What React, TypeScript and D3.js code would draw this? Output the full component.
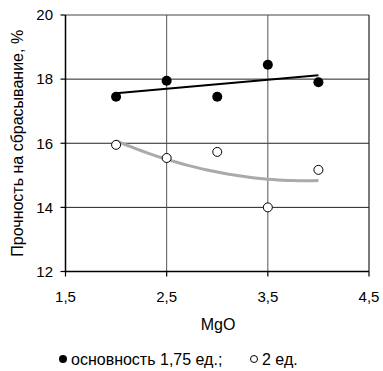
import React from "react";
import * as d3 from "d3";

const xValues = [2, 2.5, 3, 3.5, 4];
const basic175 = [17.45, 17.95, 17.45, 18.45, 17.9];
const basic2 = [15.95, 15.54, 15.73, 14.0, 15.17];
const xTicks = [1.5, 2.5, 3.5, 4.5];
const yTicks = [12, 14, 16, 18, 20];
const xGrid = [2.5, 3.5];
const yGrid = [14, 16, 18];

const W = 383, H = 371;
const m = { left: 65.5, right: 369, top: 15, bottom: 271.5 };

function polyfit(xs: number[], ys: number[], deg: number): number[] {
  const n = deg + 1;
  const A: number[][] = Array.from({ length: n }, () => Array(n + 1).fill(0));
  for (let i = 0; i < n; i++) {
    for (let j = 0; j < n; j++) A[i][j] = d3.sum(xs, (x) => Math.pow(x, i + j));
    A[i][n] = d3.sum(xs, (x, k) => Math.pow(x, i) * ys[k]);
  }
  for (let i = 0; i < n; i++) {
    let p = i;
    for (let r = i + 1; r < n; r++) if (Math.abs(A[r][i]) > Math.abs(A[p][i])) p = r;
    [A[i], A[p]] = [A[p], A[i]];
    for (let r = 0; r < n; r++) {
      if (r === i) continue;
      const f = A[r][i] / A[i][i];
      for (let c = i; c <= n; c++) A[r][c] -= f * A[i][c];
    }
  }
  return A.map((row, i) => row[n] / row[i]);
}

export default function App() {
  const x = d3.scaleLinear().domain([1.5, 4.5]).range([m.left, m.right]);
  const y = d3.scaleLinear().domain([12, 20]).range([m.bottom, m.top]);
  const fmt = (v: number) => String(v).replace(".", ",");

  const c1 = polyfit(xValues, basic175, 1);
  const c2 = polyfit(xValues, basic2, 2);
  const samples = d3.range(2, 4.0001, 0.05);
  const ev = (c: number[], v: number) => c.reduce((s, a, i) => s + a * Math.pow(v, i), 0);
  const trend1 = d3.line<number>().x((d) => x(d)).y((d) => y(ev(c1, d)))([2, 4]) || "";
  const trend2 = d3.line<number>().x((d) => x(d)).y((d) => y(ev(c2, d)))(samples) || "";

  const font = "'Liberation Sans', Arial, sans-serif";

  return (
    <svg width={W} height={H} style={{ position: "absolute", left: 0, top: 0 }} fontFamily={font}>
      <rect width={W} height={H} fill="#fff" />
      {yGrid.map((v) => (
        <line key={"gy" + v} x1={m.left} x2={m.right} y1={y(v)} y2={y(v)} stroke="#222" strokeWidth={1} />
      ))}
      {xGrid.map((v) => (
        <line key={"gx" + v} x1={x(v)} x2={x(v)} y1={m.top} y2={m.bottom} stroke="#555" strokeWidth={1} />
      ))}
      <line x1={m.left} x2={m.right} y1={m.top} y2={m.top} stroke="#444" strokeWidth={1.2} />
      <line x1={m.right} x2={m.right} y1={m.top} y2={m.bottom} stroke="#222" strokeWidth={1.2} />
      <line x1={m.left} x2={m.left} y1={m.top} y2={m.bottom} stroke="#000" strokeWidth={1.5} />
      <line x1={m.left} x2={m.right} y1={m.bottom} y2={m.bottom} stroke="#000" strokeWidth={1.5} />
      {yTicks.map((v) => (
        <g key={"yt" + v}>
          <line x1={m.left - 5} x2={m.left} y1={y(v)} y2={y(v)} stroke="#000" strokeWidth={1.2} />
          <text x={53} y={y(v)} dy="0.35em" textAnchor="end" fontSize={15}>
            {fmt(v)}
          </text>
        </g>
      ))}
      {xTicks.map((v) => (
        <g key={"xt" + v}>
          <line x1={x(v)} x2={x(v)} y1={m.bottom} y2={m.bottom + 5} stroke="#000" strokeWidth={1.2} />
          <text x={x(v)} y={297} dy="0.35em" textAnchor="middle" fontSize={15}>
            {fmt(v)}
          </text>
        </g>
      ))}
      <path d={trend2} fill="none" stroke="#aaa" strokeWidth={3} />
      <path d={trend1} fill="none" stroke="#000" strokeWidth={2} />
      {xValues.map((v, i) => (
        <circle key={"b" + i} cx={x(v)} cy={y(basic175[i])} r={5} fill="#000" />
      ))}
      {xValues.map((v, i) => (
        <circle key={"w" + i} cx={x(v)} cy={y(basic2[i])} r={4.5} fill="#fff" stroke="#000" strokeWidth={1} />
      ))}
      <text x={218} y={324} dy="0.35em" textAnchor="middle" fontSize={16}>
        MgO
      </text>
      <text
        transform={`translate(17,${(m.top + m.bottom) / 2}) rotate(-90)`}
        dy="0.35em"
        textAnchor="middle"
        fontSize={16}
      >
        Прочность на сбрасывание, %
      </text>
      <circle cx={63} cy={359} r={4} fill="#000" />
      <text x={71} y={359} dy="0.35em" fontSize={16}>
        основность 1,75 ед.;
      </text>
      <circle cx={254} cy={359} r={3.5} fill="#fff" stroke="#000" strokeWidth={1} />
      <text x={262} y={359} dy="0.35em" fontSize={16}>
        2 ед.
      </text>
    </svg>
  );
}
